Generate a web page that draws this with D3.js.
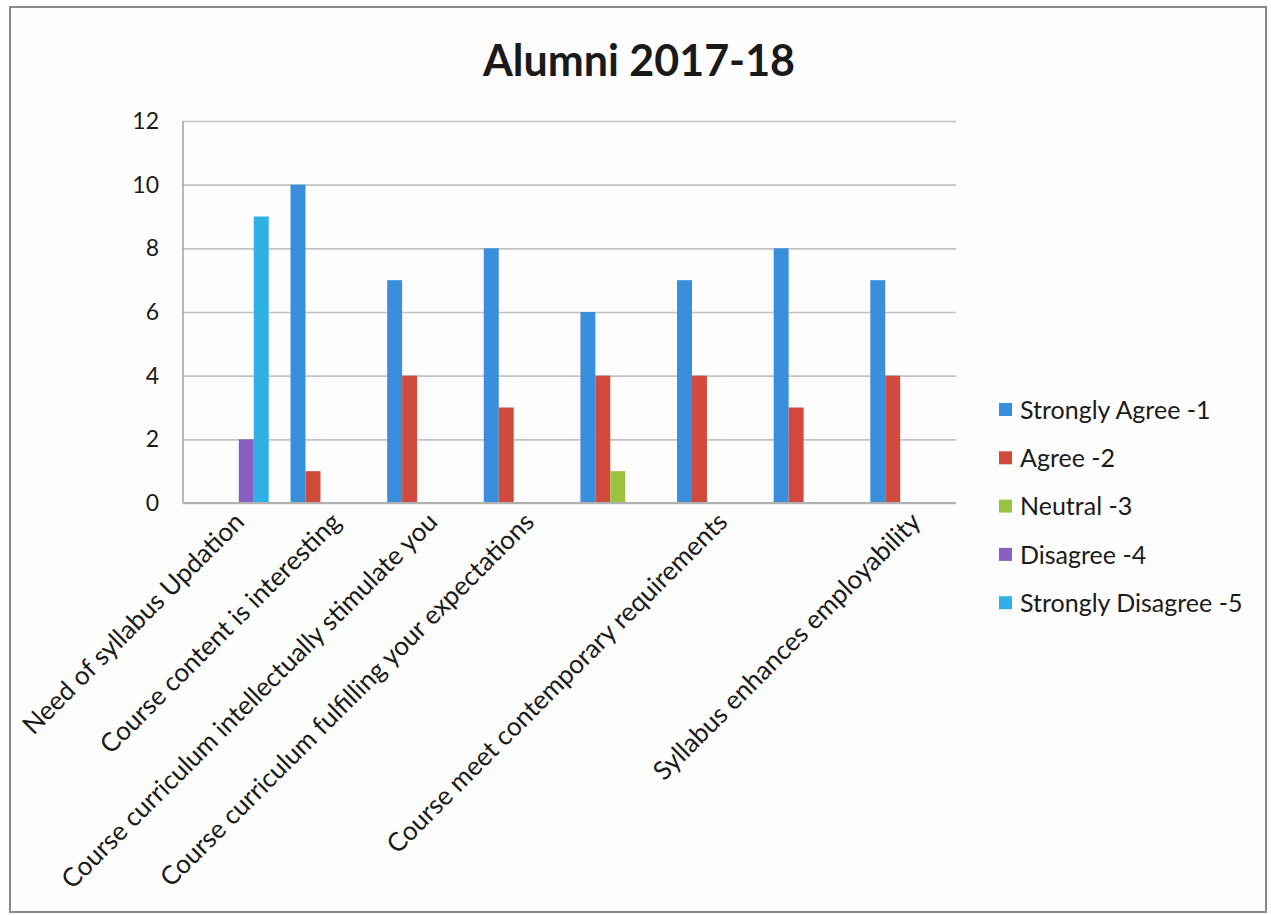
<!DOCTYPE html>
<html>
<head>
<meta charset="utf-8">
<script src="https://cdn.jsdelivr.net/npm/d3@7/dist/d3.min.js"></script>
<style>
  html, body { margin: 0; padding: 0; background: #ffffff; }
  svg { display: block; }
</style>
</head>
<body>
<svg id="chart" width="1271" height="915"></svg>
<script>
const title = "Alumni 2017-18";
const categories = [
  "Need of syllabus Updation",
  "Course content is interesting",
  "Course curriculum intellectually stimulate you",
  "Course curriculum fulfilling your expectations",
  "",
  "Course meet contemporary requirements",
  "",
  "Syllabus enhances employability"
];
const seriesNames = ["Strongly Agree -1", "Agree -2", "Neutral -3", "Disagree -4", "Strongly Disagree -5"];
const stronglyAgree    = [0, 10, 7, 8, 6, 7, 8, 7];
const agree            = [0, 1, 4, 3, 4, 4, 3, 4];
const neutral          = [0, 0, 0, 0, 1, 0, 0, 0];
const disagree         = [2, 0, 0, 0, 0, 0, 0, 0];
const stronglyDisagree = [9, 0, 0, 0, 0, 0, 0, 0];
const yTicks = [0, 2, 4, 6, 8, 10, 12];

(function () {
const seriesValues = [stronglyAgree, agree, neutral, disagree, stronglyDisagree];
const colors = ["#3a8fdc", "#d04b3c", "#9cc241", "#8a5fc3", "#2fb1e6"];

const svg = d3.select("#chart");
const FONT = "Lato, 'Open Sans', sans-serif";

// outer chart border
svg.append("rect").attr("x", 10).attr("y", 7).attr("width", 1256).attr("height", 905)
  .attr("fill", "#fdfdfd").attr("stroke", "#8a8a8a").attr("stroke-width", 2);

const pLeft = 183, pRight = 956, pTop = 121, pBottom = 503;

const x0 = d3.scaleBand().domain(d3.range(categories.length)).range([pLeft, pRight]).paddingInner(0).paddingOuter(0);
const groupW = x0.bandwidth() * 0.774;
const x1 = d3.scaleBand().domain(d3.range(seriesNames.length)).range([0, groupW]).padding(0);
const y = d3.scaleLinear().domain([0, 12]).range([pBottom, pTop]);

// gridlines
const yAxis = d3.axisLeft(y).tickValues(yTicks).tickSize(-(pRight - pLeft)).tickFormat(d3.format("d")).tickPadding(24);
const gy = svg.append("g").attr("transform", `translate(${pLeft},0)`).call(yAxis);
gy.select(".domain").remove();
gy.selectAll(".tick line").attr("stroke", "#c2c2c2").attr("stroke-width", 1.6);
gy.selectAll(".tick text").attr("font-family", FONT).attr("font-size", 23).attr("fill", "#1a1a1a");

// left axis line
svg.append("line").attr("x1", pLeft).attr("x2", pLeft).attr("y1", pTop).attr("y2", pBottom)
  .attr("stroke", "#a8a8a8").attr("stroke-width", 1.6);

// bars
const groups = svg.append("g").selectAll("g").data(categories.map((c, i) => i)).join("g")
  .attr("transform", i => `translate(${x0(i) + (x0.bandwidth() - groupW) / 2},0)`);
groups.selectAll("rect")
  .data(i => seriesValues.map((vals, s) => ({ s, v: vals[i] })).filter(d => d.v > 0))
  .join("rect")
  .attr("x", d => x1(d.s))
  .attr("width", x1.bandwidth())
  .attr("y", d => y(d.v))
  .attr("height", d => y(0) - y(d.v))
  .attr("fill", d => colors[d.s]);

// x axis baseline
svg.append("line").attr("x1", pLeft).attr("x2", pRight).attr("y1", pBottom).attr("y2", pBottom)
  .attr("stroke", "#b0b0b0").attr("stroke-width", 1.8);

// category labels
const xAxis = d3.axisBottom(x0).tickSize(0).tickFormat(i => categories[i]);
const gx = svg.append("g").attr("transform", `translate(0,${pBottom})`).call(xAxis);
gx.select(".domain").remove();
gx.selectAll(".tick text")
  .attr("font-family", FONT).attr("font-size", 26).attr("fill", "#1a1a1a")
  .attr("text-anchor", "end")
  .attr("transform", "translate(6,12) rotate(-45)")
  .attr("dy", "0.35em");

// title
svg.append("text").attr("x", 639).attr("y", 76).attr("text-anchor", "middle")
  .attr("font-family", FONT).attr("font-weight", "bold").attr("font-size", 43).attr("fill", "#1a1a1a")
  .text(title);

// legend
const legend = svg.append("g").selectAll("g").data(seriesNames).join("g")
  .attr("transform", (d, i) => `translate(999,${410 + i * 48.3})`);
legend.append("rect").attr("x", 0).attr("y", -7).attr("width", 13).attr("height", 13)
  .attr("fill", (d, i) => colors[i]);
legend.append("text").attr("x", 21).attr("y", 0).attr("dy", "0.35em")
  .attr("font-family", FONT).attr("font-size", 25).attr("fill", "#1a1a1a")
  .text(d => d);
})();
</script>
</body>
</html>
